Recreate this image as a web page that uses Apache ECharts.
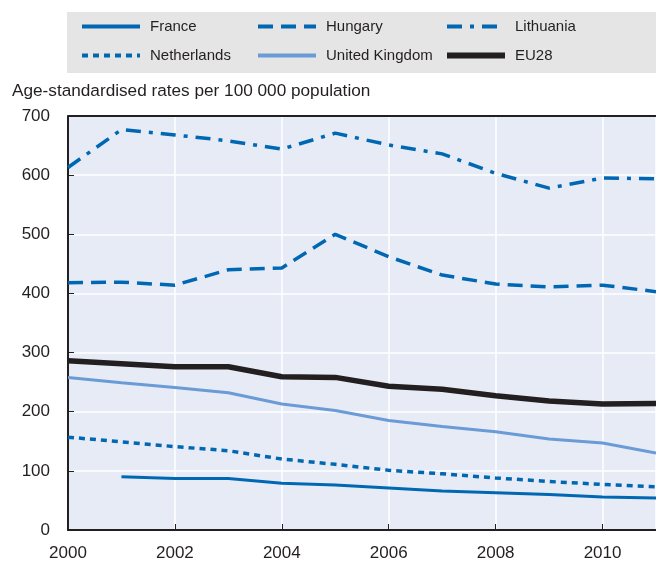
<!DOCTYPE html>
<html>
<head>
<meta charset="utf-8">
<script src="https://cdn.jsdelivr.net/npm/echarts@6/dist/echarts.min.js"></script>
<style>
  html, body { margin: 0; padding: 0; background: #fff; overflow: hidden; }
  #chart { width: 656px; height: 562px; }
</style>
</head>
<body>
<div id="chart"></div>
<script>
  // years on the x axis
  var years = [2000, 2001, 2002, 2003, 2004, 2005, 2006, 2007, 2008, 2009, 2010, 2011];

  // values (null = no data)
  var france = [null, 90, 87, 87, 79, 76, 71, 66, 63, 60, 56, 54];
  var hungary = [418, 419, 414, 440, 443, 500, 462, 431, 416, 411, 414, 403];
  var lithuania = [613, 677, 668, 658, 644, 671, 651, 636, 603, 578, 595, 594];
  var netherlands = [157, 149, 141, 134, 120, 111, 101, 95, 88, 82, 77, 73];
  var unitedKingdom = [258, 249, 241, 232, 213, 202, 185, 175, 166, 154, 147, 130];
  var eu28 = [286, 281, 276, 276, 259, 258, 243, 238, 227, 218, 213, 214];

  var yTicks = [0, 100, 200, 300, 400, 500, 600, 700];

  var font = "'Liberation Sans Narrow', 'Arial Narrow', 'Liberation Sans', sans-serif";
  var blue = "#0068b3";
  var ink = "#231f20";

  function pairs(arr) {
    return years.map(function (y, i) { return [y, arr[i]]; });
  }

  function line(name, arr, color, width, dash) {
    return {
      name: name,
      type: "line",
      symbol: "none",
      data: pairs(arr),
      connectNulls: false,
      lineStyle: { color: color, width: width, type: dash || "solid", cap: "butt" },
      itemStyle: { color: color },
      z: 3
    };
  }

  function legendCol(left, names) {
    return {
      orient: "vertical",
      left: left,
      top: 14,
      itemWidth: 58,
      itemHeight: 12,
      itemGap: 14,
      data: names.map(function (n) {
        return { name: n, lineStyle: { width: n === "EU28" ? 6 : 4 } };
      }),
      selectedMode: false,
      itemStyle: { opacity: 0 },
      textStyle: { fontFamily: font, fontSize: 15, color: ink, padding: [0, 0, 0, 5] }
    };
  }

  var chart = echarts.init(document.getElementById("chart"));
  chart.setOption({
    animation: false,
    graphic: [
      { type: "rect", shape: { x: 67, y: 12, width: 600, height: 61 }, style: { fill: "#e5e5e5" }, z: -1 },
      {
        type: "text", left: 12, top: 83,
        style: { text: "Age-standardised rates per 100 000 population", fontFamily: font, fontSize: 17.2, fill: ink }
      }
    ],
    legend: [
      legendCol(75, ["France", "Netherlands"]),
      legendCol(251, ["Hungary", "United Kingdom"]),
      legendCol(439, ["Lithuania", "EU28"])
    ],
    grid: { left: 68, right: 0, top: 116, bottom: 32, backgroundColor: "#e7ebf6", show: true, borderWidth: 0 },
    xAxis: {
      type: "value",
      min: 2000,
      max: 2011,
      interval: 2,
      axisLine: { show: true, onZero: false, lineStyle: { color: ink, width: 2 } },
      axisTick: { show: true, inside: true, length: 6, lineStyle: { color: ink, width: 1 } },
      axisLabel: { fontFamily: font, fontSize: 17, color: ink, margin: 15, showMaxLabel: false,
        formatter: function (v) { return String(v); } },
      splitLine: { show: true, lineStyle: { color: "#ffffff", width: 1.5 } }
    },
    yAxis: [
      {
        type: "value",
        min: 0,
        max: 700,
        interval: 100,
        axisLine: { show: true, lineStyle: { color: ink, width: 2 } },
        axisTick: { show: true, inside: true, length: 6, lineStyle: { color: ink, width: 1 } },
        axisLabel: { fontFamily: font, fontSize: 17, color: ink, margin: 18,
          formatter: function (v) { return yTicks.indexOf(v) >= 0 ? String(v) : ""; } },
        splitLine: { show: true, lineStyle: { color: "#ffffff", width: 1.5 } }
      }
    ],
    series: [
      line("France", france, blue, 3),
      line("Hungary", hungary, blue, 3.5, [15, 8]),
      line("Lithuania", lithuania, blue, 3.5, [15, 8, 4, 8]),
      line("Netherlands", netherlands, blue, 3.5, [6, 5]),
      line("United Kingdom", unitedKingdom, "#6b9bd6", 3),
      line("EU28", eu28, ink, 5.5),
      {
        // top border of the plot
        type: "line",
        symbol: "none",
        silent: true,
        data: [],
        markLine: {
          silent: true,
          symbol: "none",
          label: { show: false },
          lineStyle: { color: ink, width: 2, type: "solid" },
          data: [{ yAxis: 700 }]
        }
      }
    ]
  });
</script>
</body>
</html>
